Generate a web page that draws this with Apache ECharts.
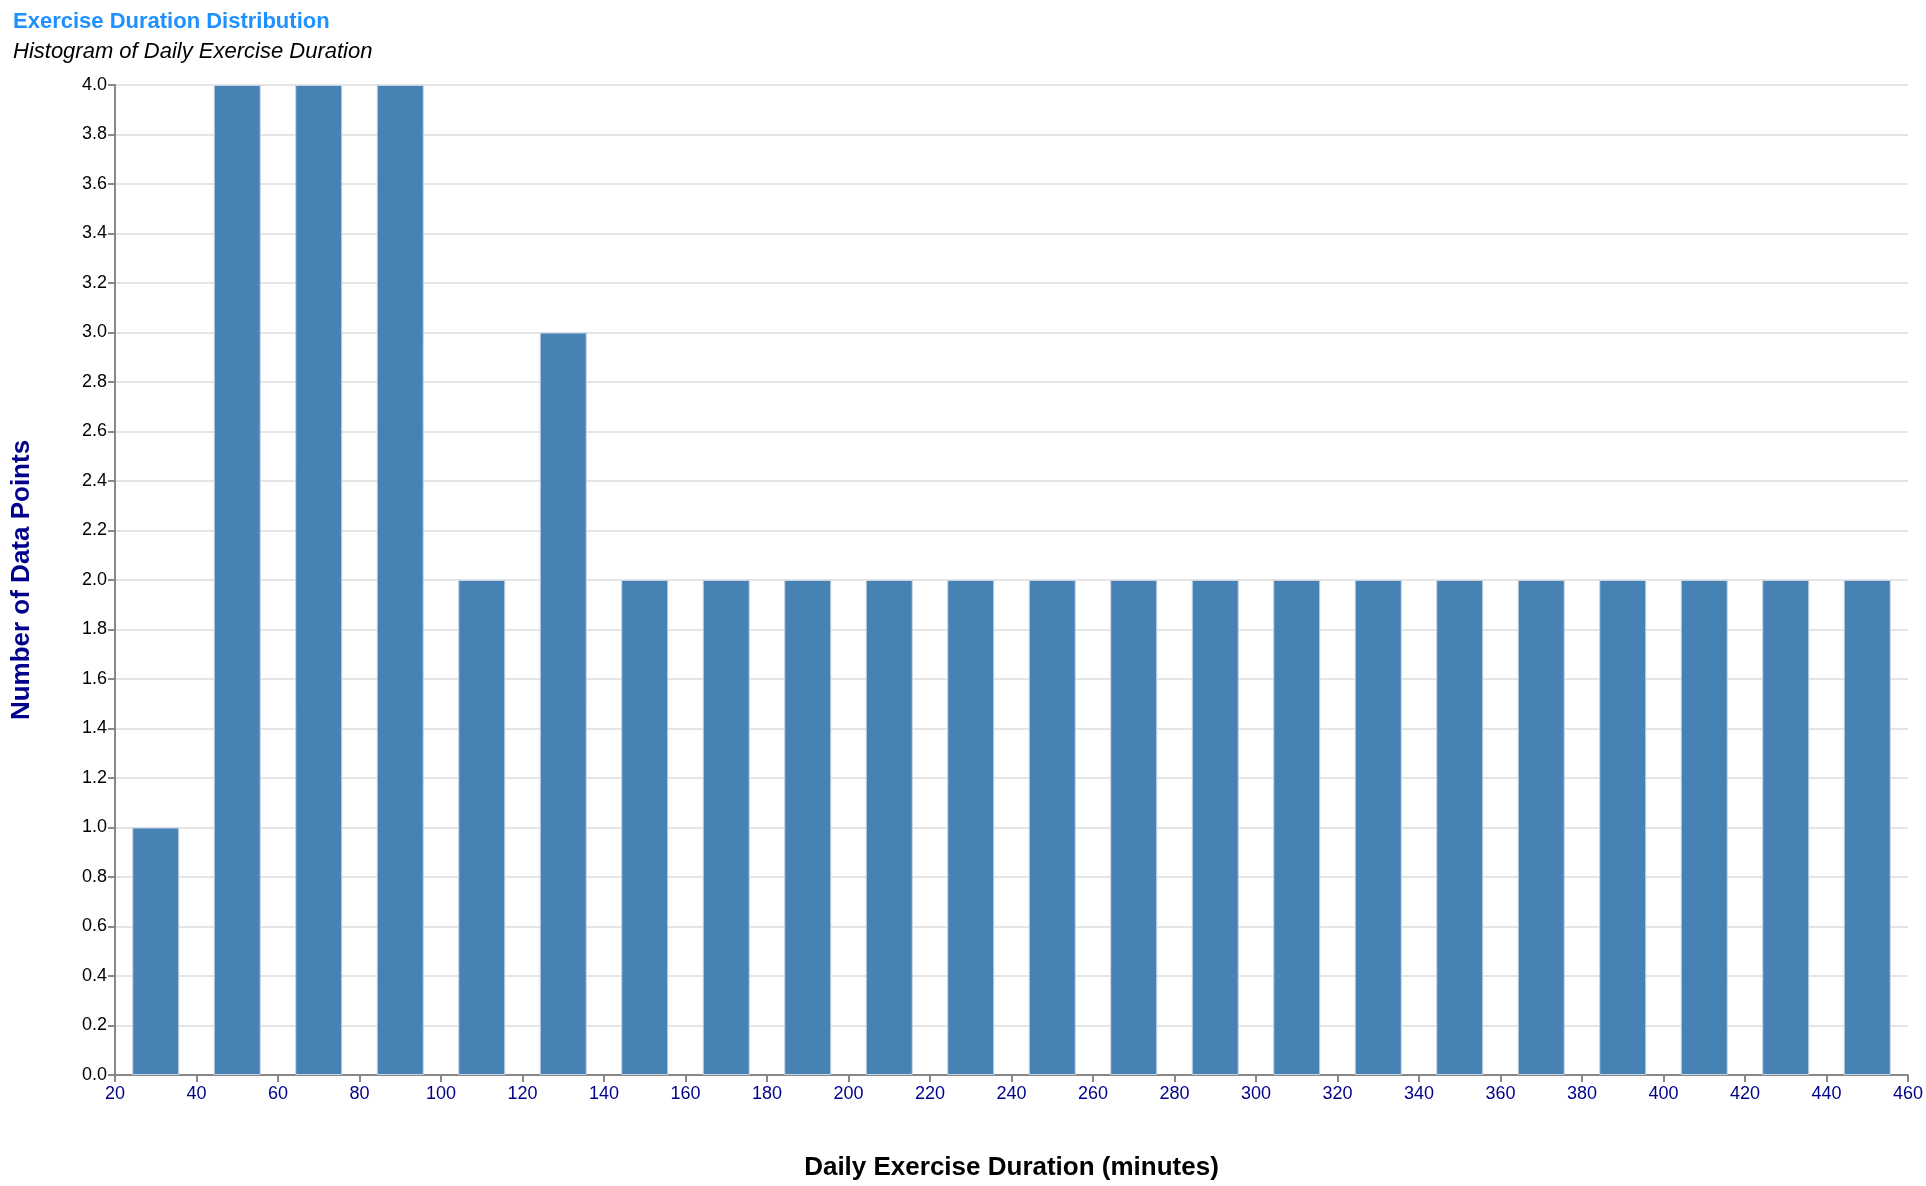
<!DOCTYPE html>
<html lang="en">
<head>
  <meta charset="UTF-8">
  <title>Exercise Duration Distribution</title>
  <script src="https://cdn.jsdelivr.net/npm/echarts@6/dist/echarts.min.js"></script>
  <style>
    body { margin: 0; }
    #chart { width: 1926px; height: 1186px; }
  </style>
</head>
<body>
  <div id="chart"></div>
  <script>
    // bin centres (minutes) and counts
    const binCenters = [30, 50, 70, 90, 110, 130, 150, 170, 190, 210, 230, 250, 270, 290, 310, 330, 350, 370, 390, 410, 430, 450]
    const counts = [1, 4, 4, 4, 2, 3, 2, 2, 2, 2, 2, 2, 2, 2, 2, 2, 2, 2, 2, 2, 2, 2]

    const chart = echarts.init(document.getElementById('chart'))
    chart.setOption({
      title: {
        text: 'Exercise Duration Distribution',
        subtext: 'Histogram of Daily Exercise Duration',
        left: 8, top: 6, itemGap: 8,
        textStyle: { color: '#1e90ff', fontSize: 22, fontWeight: 'bold', fontFamily: 'Liberation Sans' },
        subtextStyle: { color: '#000', fontSize: 22, fontStyle: 'italic', fontFamily: 'Liberation Sans' }
      },
      grid: { left: 115, right: 9, top: 85, bottom: 55 },
      xAxis: {
        type: 'value', min: 20, max: 460, interval: 20,
        name: 'Daily Exercise Duration (minutes)', nameLocation: 'middle', nameGap: 80,
        nameTextStyle: { fontSize: 26, fontWeight: 'bold', color: '#000', fontFamily: 'Liberation Sans' },
        axisLine: { lineStyle: { color: '#888', width: 2 } },
        axisTick: { show: true, length: 7, lineStyle: { color: '#888', width: 2 } },
        axisLabel: { color: '#00008b', fontSize: 18, fontFamily: 'Liberation Sans', margin: 10 },
        splitLine: { show: false }
      },
      yAxis: {
        type: 'value', min: 0, max: 4, interval: 0.2,
        name: 'Number of Data Points', nameLocation: 'middle', nameGap: 80,
        nameTextStyle: { fontSize: 26, fontWeight: 'bold', color: '#00008b', fontFamily: 'Liberation Sans' },
        axisLine: { show: true, lineStyle: { color: '#888', width: 2 } },
        axisTick: { show: true, length: 7, lineStyle: { color: '#888', width: 2 } },
        axisLabel: { color: '#000', fontSize: 18, fontFamily: 'Liberation Sans', formatter: v => v.toFixed(1) },
        splitLine: { lineStyle: { color: '#ddd', width: 1.5 } }
      },
      series: [{
        type: 'bar',
        barWidth: 47,
        data: binCenters.map((c, i) => [c, counts[i]]),
        itemStyle: { color: '#4682b4', borderColor: '#c8d4e0', borderWidth: 1 }
      }]
    })
  </script>
</body>
</html>
